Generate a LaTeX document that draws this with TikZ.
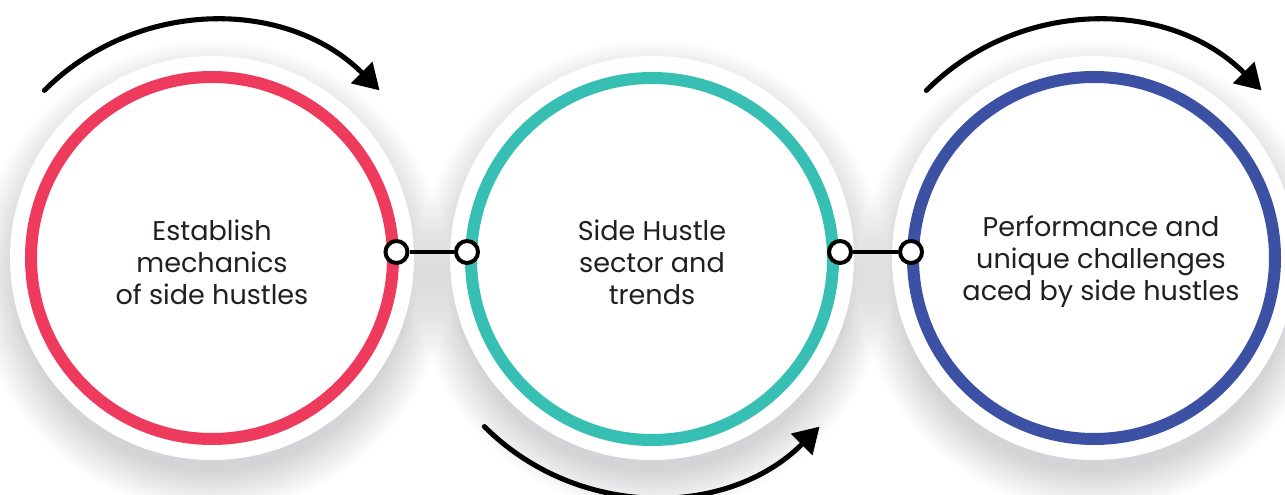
\documentclass[tikz,border=0pt]{standalone}
\usepackage{fontspec}
\setmainfont{Poppins}
\usetikzlibrary{arrows.meta}
\definecolor{cred}{HTML}{EE3A5C}
\definecolor{cteal}{HTML}{38BFB4}
\definecolor{cblue}{HTML}{3C51A3}
\definecolor{ctext}{HTML}{231F20}
\definecolor{cshade}{HTML}{2A2D3A}
\begin{document}
\begin{tikzpicture}[x=0.75pt,y=0.75pt,
  halo/.style={circle,fill=white,minimum size=303pt,inner sep=0pt},
  ring/.style={circle,line width=9pt,minimum size=271.5pt,inner sep=0pt},
  dotnode/.style={circle,draw=black,fill=white,line width=3pt,minimum size=16.5pt,inner sep=0pt},
  link/.style={line width=2.4pt,black},
  turn/.style={line width=3.8pt,black,line cap=round,-{Triangle[length=19pt,width=22pt]}},
  txt/.style={text=ctext,align=center,font={\fontsize{20.3}{24}\selectfont}}]
\useasboundingbox (0,0) rectangle (1285,495);
% soft shadows
\foreach \cx in {212,652,1094}{
  \foreach \i in {1,...,26}{
    \fill[cshade,opacity=0.0085] (\cx,219) circle ({194+\i*1.6});
  }
}
\node[halo] (h1) at (212,237) {};
\node[halo] (h2) at (652,237) {};
\node[halo] (h3) at (1094,237) {};
\node[ring,draw=cred] (c1) at (212,237) {};
\node[ring,draw=cteal] (c2) at (652,236) {};
\node[ring,draw=cblue] (c3) at (1094,237) {};
% connectors
\node[dotnode] (d1) at (396.5,243) {};
\node[dotnode] (d2) at (467,243) {};
\node[dotnode] (d3) at (840,243) {};
\node[dotnode] (d4) at (911,243) {};
\draw[link] (d1) -- (d2);
\draw[link] (d3) -- (d4);
% arrows
\draw[turn] (c1.center) ++(135:237) arc[start angle=135,end angle=45,radius=237];
\draw[turn] (c2.center) ++(225:237) arc[start angle=225,end angle=315,radius=237];
\draw[turn] (c3.center) ++(135:237) arc[start angle=135,end angle=45,radius=237];
% texts
\node[txt] (t1) at (212,233) {Establish\\mechanics\\of side hustles};
\node[txt] (t2) at (652,233) {Side Hustle\\sector and\\trends};
\node[txt] (t3) at (1101,233) {Performance and\\unique challenges\\aced by side hustles};
\end{tikzpicture}
\end{document}
